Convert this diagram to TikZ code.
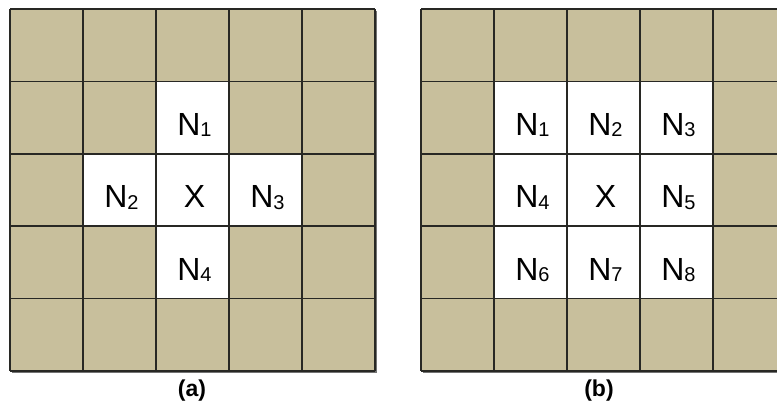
\documentclass[tikz,border=0pt]{standalone}
\usepackage{fontspec}
\setmainfont{Liberation Sans}
\definecolor{tanfill}{RGB}{200,191,156}
\definecolor{gridcol}{RGB}{40,40,36}
\newcommand\nsub[1]{\raisebox{-1.5pt}{\fontsize{20}{20}\selectfont #1}}
\begin{document}
\begin{tikzpicture}[x=1pt,y=-1pt,
  shadowbox/.style={fill=black!55},
  tancell/.style={fill=tanfill},
  whitecell/.style={fill=white},
  gridline/.style={draw=gridcol, line width=1.6pt},
  lbl/.style={font=\fontsize{32}{32}\selectfont, inner sep=0pt, text=black, anchor=base},
  caption/.style={font=\bfseries\fontsize{23}{23}\selectfont, inner sep=0pt, anchor=base}]
\useasboundingbox (0,0) rectangle (777,408);
\clip (0,0) rectangle (777,408);
\def\cw{73}
\def\ch{72.4}
\def\bl{54}
% ---------- grid (a) ----------
\begin{scope}[shift={(10,9)}]
  \fill[shadowbox] (2,2) rectangle (5*\cw+2,5*\ch+2);
  \fill[tancell] (0,0) rectangle (5*\cw,5*\ch);
  \fill[whitecell] (2*\cw,1*\ch) rectangle (3*\cw,4*\ch);
  \fill[whitecell] (1*\cw,2*\ch) rectangle (4*\cw,3*\ch);
  \foreach \i in {0,...,5} {
    \draw[gridline] (\i*\cw,0) -- (\i*\cw,5*\ch);
    \draw[gridline] (0,\i*\ch) -- (5*\cw,\i*\ch);
  }
  \node[lbl] (a1) at (2.5*\cw+2,1*\ch+\bl) {N\nsub{1}};
  \node[lbl] (a2) at (1.5*\cw+2,2*\ch+\bl) {N\nsub{2}};
  \node[lbl] (ax) at (2.5*\cw+2,2*\ch+\bl) {X};
  \node[lbl] (a3) at (3.5*\cw+2,2*\ch+\bl) {N\nsub{3}};
  \node[lbl] (a4) at (2.5*\cw+2,3*\ch+\bl) {N\nsub{4}};
\end{scope}
\node[caption] (capa) at (192,396) {(a)};
% ---------- grid (b) ----------
\begin{scope}[shift={(421,9)}]
  \fill[shadowbox] (2,2) rectangle (5*\cw+2,5*\ch+2);
  \fill[tancell] (0,0) rectangle (5*\cw,5*\ch);
  \fill[whitecell] (1*\cw,1*\ch) rectangle (4*\cw,4*\ch);
  \foreach \i in {0,...,5} {
    \draw[gridline] (\i*\cw,0) -- (\i*\cw,5*\ch);
    \draw[gridline] (0,\i*\ch) -- (5*\cw,\i*\ch);
  }
  \node[lbl] (b1) at (1.5*\cw+2,1*\ch+\bl) {N\nsub{1}};
  \node[lbl] (b2) at (2.5*\cw+2,1*\ch+\bl) {N\nsub{2}};
  \node[lbl] (b3) at (3.5*\cw+2,1*\ch+\bl) {N\nsub{3}};
  \node[lbl] (b4) at (1.5*\cw+2,2*\ch+\bl) {N\nsub{4}};
  \node[lbl] (bx) at (2.5*\cw+2,2*\ch+\bl) {X};
  \node[lbl] (b5) at (3.5*\cw+2,2*\ch+\bl) {N\nsub{5}};
  \node[lbl] (b6) at (1.5*\cw+2,3*\ch+\bl) {N\nsub{6}};
  \node[lbl] (b7) at (2.5*\cw+2,3*\ch+\bl) {N\nsub{7}};
  \node[lbl] (b8) at (3.5*\cw+2,3*\ch+\bl) {N\nsub{8}};
\end{scope}
\node[caption] (capb) at (599,396) {(b)};
\end{tikzpicture}
\end{document}
